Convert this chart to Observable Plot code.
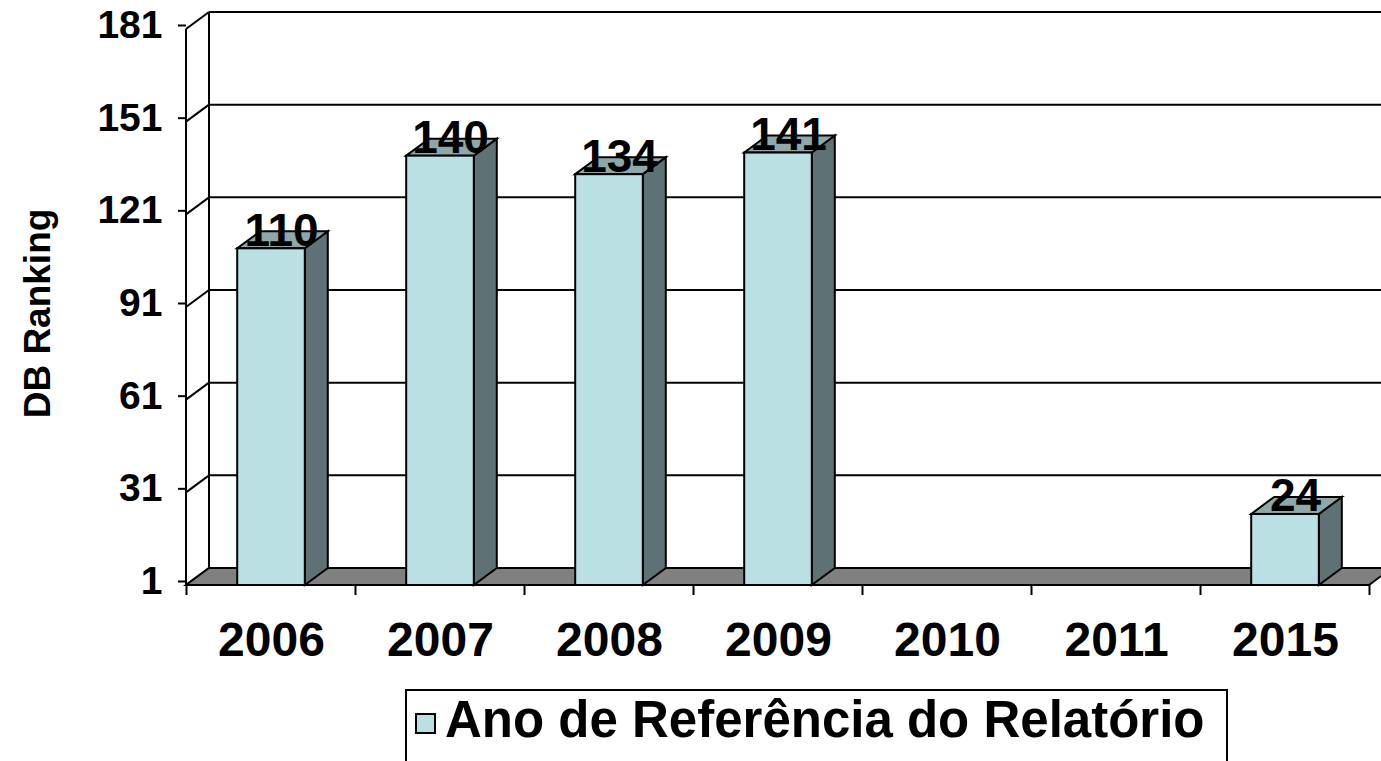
<!DOCTYPE html>
<html>
<head>
<meta charset="utf-8">
<script src="https://cdn.jsdelivr.net/npm/d3@7"></script>
<script src="https://cdn.jsdelivr.net/npm/@observablehq/plot@0.6"></script>
<style>
  html, body { margin: 0; padding: 0; background: #fff; overflow: hidden; width: 1381px; height: 761px; }
  #chart svg { display: block; }
  #legend {
    position: absolute; left: 405px; top: 689px; width: 823px; height: 100px;
    border: 2px solid #000; box-sizing: border-box;
    font-family: "Liberation Sans", Arial, sans-serif; font-weight: bold; font-size: 51px; color: #000;
  }
  #legend .sw { position: absolute; left: 8px; top: 22px; width: 21px; height: 21px; background: #BBE0E3; border: 2px solid #000; box-sizing: border-box; }
  #legend .lb { position: absolute; left: 38px; top: 3px; white-space: nowrap; line-height: 1; }
</style>
</head>
<body>
<div id="chart"></div>
<div id="legend"><div class="sw"></div><div class="lb"></div></div>
<script>
const years = ["2006", "2007", "2008", "2009", "2010", "2011", "2015"];
const ranks = [110, 140, 134, 141, null, null, 24];
const yTicks = [1, 31, 61, 91, 121, 151, 181];
const axisTitle = "DB Ranking";
const legendLabel = "Ano de Referência do Relatório";

const data = years.map((year, i) => ({year, rank: ranks[i]}));

const DX = 23, DY = -17;
const BAR_FRACTION = 0.4;
const FRONT = "#BBE0E3", SIDE = "#5E7275", TOP = "#8EA8AA", FLOOR = "#808080";

function scene(index, scales, values, dims) {
  const x = scales.x, y = scales.y;
  const L = dims.marginLeft, R = dims.width - dims.marginRight;
  const base = y(yTicks[0]);
  const topY = y(yTicks[yTicks.length - 1]);
  const step = (R - L) / years.length;
  const bw = step * BAR_FRACTION;
  const hasBand = typeof x.bandwidth === "function" && x.bandwidth() > 0;
  const center = d => hasBand ? x(d) + x.bandwidth() / 2 : x(d);
  const b0 = center(years[0]) - step / 2;
  const pts = a => a.map(p => p.join(",")).join(" ");
  const g = d3.create("svg:g").attr("stroke", "#000").attr("stroke-width", 2).attr("fill", "none");
  // back wall gridlines
  for (const t of yTicks) {
    g.append("line").attr("x1", L + DX).attr("x2", R + DX + 40).attr("y1", y(t) + DY).attr("y2", y(t) + DY);
  }
  g.append("line").attr("x1", L + DX).attr("x2", L + DX).attr("y1", topY + DY).attr("y2", base + DY);
  // side wall
  for (const t of yTicks) {
    g.append("line").attr("x1", L).attr("x2", L + DX).attr("y1", y(t)).attr("y2", y(t) + DY);
  }
  g.append("line").attr("x1", L).attr("x2", L).attr("y1", topY).attr("y2", base);
  // floor
  g.append("polygon").attr("points", pts([[L, base], [R, base], [R + DX, base + DY], [L + DX, base + DY]])).attr("fill", FLOOR);
  // x ticks at category boundaries
  for (let k = 0; k <= years.length; k++) {
    const xx = b0 + k * step;
    g.append("line").attr("x1", xx).attr("x2", xx).attr("y1", base).attr("y2", base + 10);
  }
  // bars
  for (const d of data) {
    if (d.rank == null) continue;
    const c = center(d.year);
    const x0 = c - bw / 2, x1 = c + bw / 2, yt = y(d.rank);
    g.append("polygon").attr("points", pts([[x1, yt], [x1 + DX, yt + DY], [x1 + DX, base + DY], [x1, base]])).attr("fill", SIDE);
    g.append("polygon").attr("points", pts([[x0, yt], [x0 + DX, yt + DY], [x1 + DX, yt + DY], [x1, yt]])).attr("fill", TOP);
    g.append("rect").attr("x", x0).attr("y", yt).attr("width", bw).attr("height", base - yt).attr("fill", FRONT);
  }
  return g.node();
}

const chart = Plot.plot({
  width: 1381,
  height: 689,
  marginLeft: 186,
  marginRight: 12,
  marginTop: 29,
  marginBottom: 104,
  style: {fontFamily: "'Liberation Sans', Arial, sans-serif", fontWeight: "bold", color: "#000", background: "#fff"},
  x: {domain: years, paddingInner: 0.6, paddingOuter: 0.3},
  y: {domain: [1, 181]},
  marks: [
    scene,
    Plot.text(data, {
      filter: d => d.rank != null,
      x: "year", y: "rank", text: d => String(d.rank),
      dx: 10, dy: -3, lineAnchor: "bottom", fontSize: 46, fontWeight: "bold", fill: "#000"
    }),
    Plot.axisY({ticks: yTicks, tickSize: 8, tickPadding: 16, fontSize: 39, fontWeight: "bold", strokeWidth: 2, dy: -4, label: null, tickFormat: d => String(d)}),
    Plot.axisX({tickSize: 0, tickPadding: 36, fontSize: 48, fontWeight: "bold", label: null}),
    Plot.text([axisTitle], {frameAnchor: "left", textAnchor: "middle", lineAnchor: "middle", dx: -148, dy: 6, rotate: -90, fontSize: 37, fontWeight: "bold", fill: "#000"})
  ]
});
document.getElementById("chart").appendChild(chart);
document.querySelector("#legend .lb").textContent = legendLabel;
</script>
</body>
</html>
